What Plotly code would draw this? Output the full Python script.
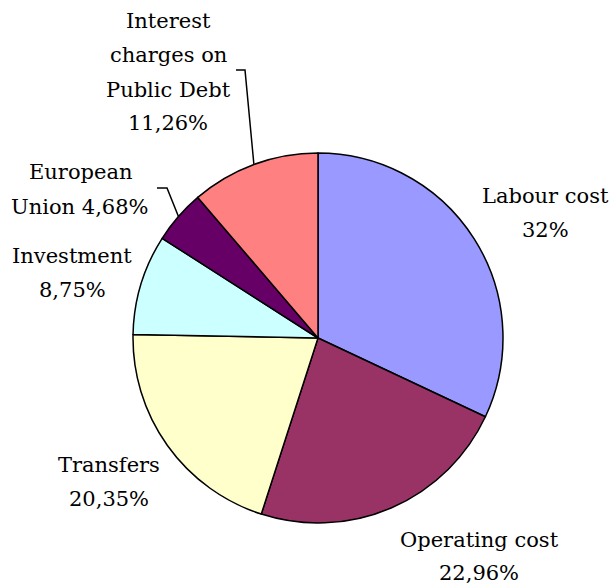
import math
import plotly.graph_objects as go

# Budget expenditure shares (%)
categories = ["Labour cost", "Operating cost", "Transfers", "Investment",
              "European Union", "Interest charges on Public Debt"]
shares = [32.0, 22.96, 20.35, 8.75, 4.68, 11.26]
share_labels = ["32%", "22,96%", "20,35%", "8,75%", "4,68%", "11,26%"]
colors = ["#9999FF", "#993366", "#FFFFCC", "#CCFFFF", "#660066", "#FF8080"]

W, H = 612, 584
CX, CY, R = 318, 338, 185  # pie centre and radius in pixels

FONT = dict(family="DejaVu Serif", size=21, color="black")

fig = go.Figure(go.Pie(
    labels=categories,
    values=shares,
    sort=False,
    direction="clockwise",
    rotation=0,
    marker=dict(colors=colors, line=dict(color="black", width=1.5)),
    textinfo="none",
    hoverinfo="label+percent",
    showlegend=False,
    domain=dict(x=[(CX - R) / W, (CX + R) / W],
                y=[(H - CY - R) / H, (H - CY + R) / H]),
))


def px(x):
    return x / W


def py(y):
    return 1 - y / H


# Label blocks: text lines, centre x, and centre y of each line (pixels)
label_spec = [
    (["Labour cost", share_labels[0]], 545, [196, 230]),
    (["Operating cost", share_labels[1]], 479, [540, 573]),
    (["Transfers", share_labels[2]], 109, [465, 499]),
    (["Investment", share_labels[3]], 72, [256, 290]),
    (["European", "Union " + share_labels[4]], 80, [172, 207]),
    (["Interest", "charges on", "Public Debt", share_labels[5]], 168,
     [21, 55, 90, 123]),
]

annotations = []
for lines, x, ys in label_spec:
    for text, y in zip(lines, ys):
        annotations.append(dict(
            text=text, x=px(x), y=py(y), xref="paper", yref="paper",
            xanchor="center", yanchor="middle", showarrow=False, font=FONT,
        ))


def slice_mid_point(i):
    total = sum(shares)
    start = sum(shares[:i])
    frac = (start + shares[i] / 2) / total
    ang = 2 * math.pi * frac
    return CX + R * math.sin(ang), CY - R * math.cos(ang)


# Leader lines for the two small labels: short tick, then down to the slice
leaders = [
    (4, (157, 188), (167, 188)),
    (5, (236, 70), (245, 70)),
]
shapes = []
for i, p0, p1 in leaders:
    ex, ey = slice_mid_point(i)
    path = "M {} {} L {} {} L {} {}".format(
        px(p0[0]), py(p0[1]), px(p1[0]), py(p1[1]), px(ex), py(ey))
    shapes.append(dict(type="path", path=path, xref="paper", yref="paper",
                       line=dict(color="black", width=1.5)))

fig.update_layout(
    width=W, height=H,
    margin=dict(l=0, r=0, t=0, b=0),
    paper_bgcolor="white",
    plot_bgcolor="white",
    font=FONT,
    annotations=annotations,
    shapes=shapes,
)

fig.write_html("out.html")
